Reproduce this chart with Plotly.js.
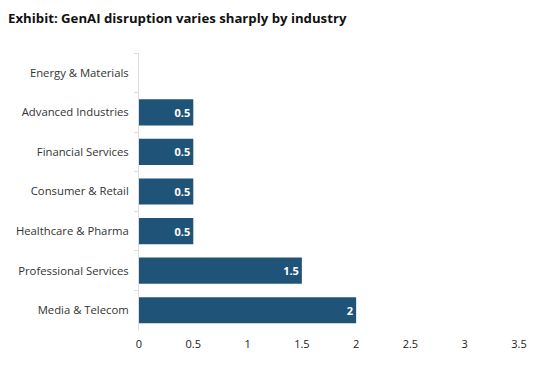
<!DOCTYPE html>
<html><head><meta charset="utf-8">
<script src="https://cdn.plot.ly/plotly-3.0.1.min.js"></script>
<style>body{margin:0;background:#fff}#chart{width:540px;height:372px}</style>
</head><body><div id="chart"></div>
<script>
const categories = ["Energy & Materials","Advanced Industries","Financial Services","Consumer & Retail","Healthcare & Pharma","Professional Services","Media & Telecom"];
const values = [0, 0.5, 0.5, 0.5, 0.5, 1.5, 2];
const xTicks = [0, 0.5, 1, 1.5, 2, 2.5, 3, 3.5];
const xTickLabels = ["0","0.5","1","1.5","2","2.5","3","3.5"];

const font = "'Open Sans', Lato, sans-serif";
Plotly.newPlot("chart", [{
  type: "bar",
  orientation: "h",
  y: categories,
  x: values,
  width: 0.66,
  marker: {color: "#1f5378"},
  text: values.map(v => v === 0 ? "" : String(v)),
  textposition: "inside",
  insidetextanchor: "end",
  textfont: {color: "#ffffff", size: 11, family: font, weight: "bold"},
  hoverinfo: "none"
}], {
  width: 540, height: 372,
  margin: {l: 139, r: 21, t: 53, b: 42},
  paper_bgcolor: "#ffffff", plot_bgcolor: "#ffffff",
  title: {text: "<b>Exhibit: GenAI disruption varies sharply by industry</b>", x: 0.015, xanchor: "left", y: 0.95, yanchor: "middle", font: {family: font, size: 13.2, color: "#111"}},
  showlegend: false,
  bargap: 0.34,
  xaxis: {range: [0, 3.5], tickvals: xTicks, ticktext: xTickLabels, showgrid: false, zeroline: false, showline: false, ticks: "", tickfont: {family: font, size: 11, color: "#222"}, ticklabelstandoff: 6, fixedrange: true},
  yaxis: {autorange: "reversed", showgrid: false, zeroline: false, showline: true, linecolor: "#dddddd", linewidth: 1, ticks: "outside", tickson: "boundaries", ticklen: 4, tickcolor: "#dddddd", tickfont: {family: font, size: 11.3, color: "#333"}, ticklabelstandoff: 7, fixedrange: true}
}, {displayModeBar: false, staticPlot: true});
</script></body></html>
